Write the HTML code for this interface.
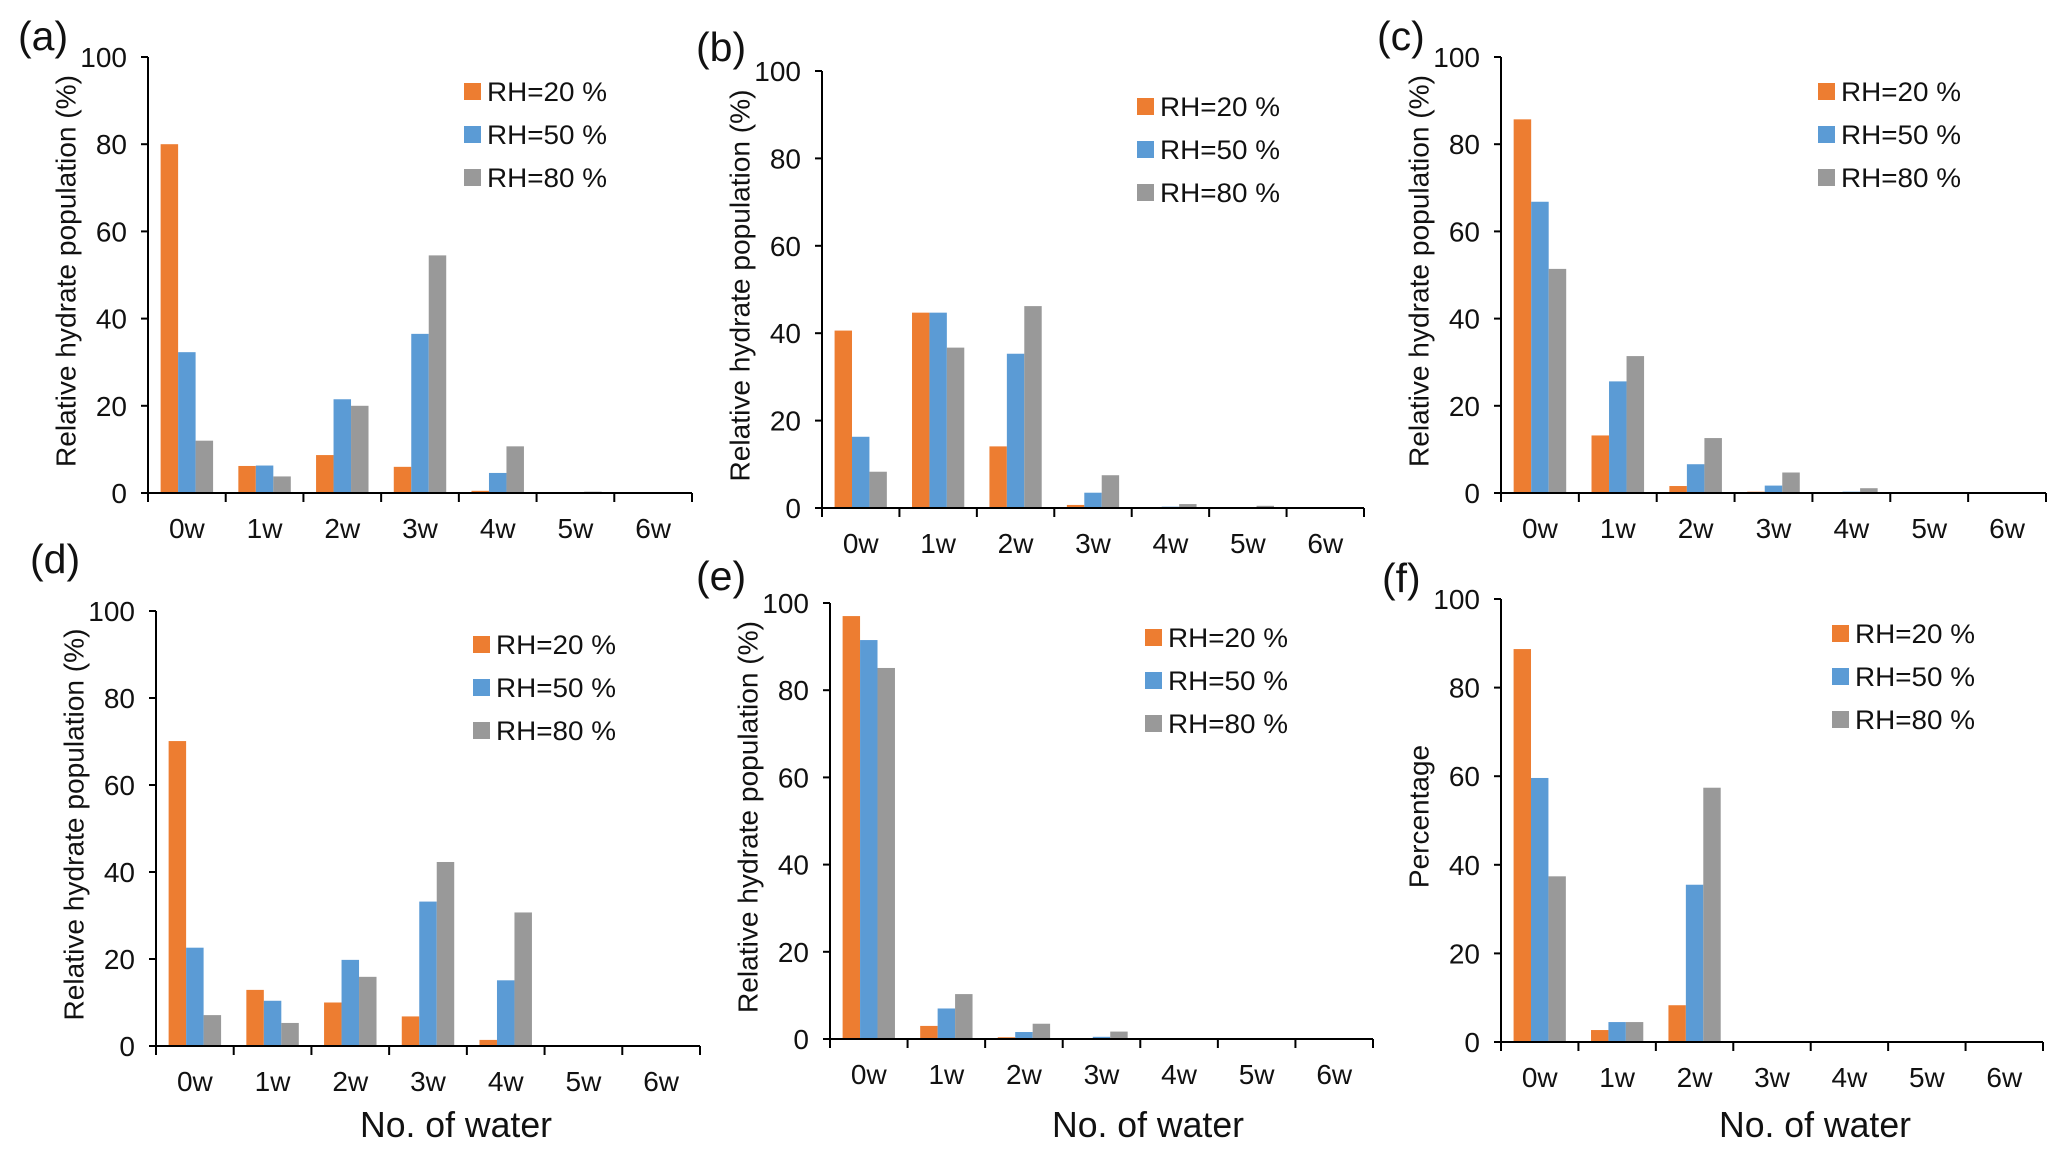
<!DOCTYPE html>
<html><head><meta charset="utf-8"><style>
html,body{margin:0;padding:0;background:#fff;}
svg{display:block;font-family:"Liberation Sans",Arial,sans-serif;}
</style></head><body>
<svg id="fig" width="2067" height="1155" viewBox="0 0 2067 1155" xmlns="http://www.w3.org/2000/svg"></svg>
<script>
const categories = ["0w","1w","2w","3w","4w","5w","6w"];
const seriesNames = ["RH=20 %","RH=50 %","RH=80 %"];
const yTicks = [0,20,40,60,80,100];
const aRH20 = [80,6.2,8.7,6,0.5,0.2,0.2];
const aRH50 = [32.3,6.3,21.5,36.5,4.6,0.2,0.2];
const aRH80 = [12,3.8,20,54.5,10.7,0.3,0.2];
const bRH20 = [40.6,44.7,14.1,0.7,0.2,0.2,0];
const bRH50 = [16.3,44.7,35.3,3.5,0.3,0.2,0.2];
const bRH80 = [8.3,36.7,46.2,7.5,0.9,0.5,0.1];
const cRH20 = [85.7,13.2,1.6,0.3,0.2,0,0];
const cRH50 = [66.8,25.6,6.6,1.7,0.3,0.2,0.2];
const cRH80 = [51.4,31.4,12.6,4.7,1.1,0.2,0.2];
const dRH20 = [70.1,12.9,10,6.8,1.4,0.2,0];
const dRH50 = [22.6,10.4,19.8,33.2,15.1,0.2,0.2];
const dRH80 = [7.1,5.3,15.9,42.3,30.7,0.2,0.2];
const eRH20 = [97,3,0.4,0.2,0,0,0];
const eRH50 = [91.5,7,1.6,0.5,0.2,0.2,0.2];
const eRH80 = [85.1,10.3,3.5,1.7,0.2,0.2,0.1];
const fRH20 = [88.7,2.7,8.3,0,0,0,0];
const fRH50 = [59.6,4.5,35.5,0,0,0,0];
const fRH80 = [37.4,4.5,57.4,0,0,0,0];

const colors = ["#ED7D31","#5B9BD5","#999999"];
const NS = "http://www.w3.org/2000/svg";
const svg = document.getElementById("fig");
function mk(tag, attrs, parent){
  const e = document.createElementNS(NS, tag);
  for (const k in attrs) e.setAttribute(k, attrs[k]);
  (parent||svg).appendChild(e);
  return e;
}
const panels = [
 {id:"a", x0:148, x1:692, yTop:57, yBot:493, lx:464, ly:91, lab:[18,50], yt:"Relative hydrate population (%)", xt:0, data:[aRH20,aRH50,aRH80]},
 {id:"b", x0:822, x1:1364, yTop:71, yBot:508, lx:1137, ly:106, lab:[696,61], yt:"Relative hydrate population (%)", xt:0, data:[bRH20,bRH50,bRH80]},
 {id:"c", x0:1501, x1:2046, yTop:57, yBot:493, lx:1818, ly:91, lab:[1377,50], yt:"Relative hydrate population (%)", xt:0, data:[cRH20,cRH50,cRH80]},
 {id:"d", x0:156, x1:700, yTop:611, yBot:1046, lx:473, ly:644, lab:[30,573], yt:"Relative hydrate population (%)", xt:456, data:[dRH20,dRH50,dRH80]},
 {id:"e", x0:830, x1:1373, yTop:603, yBot:1039, lx:1145, ly:637, lab:[696,590], yt:"Relative hydrate population (%)", xt:1148, data:[eRH20,eRH50,eRH80]},
 {id:"f", x0:1501, x1:2043, yTop:599, yBot:1042, lx:1832, ly:633, lab:[1382,592], yt:"Percentage", xt:1815, data:[fRH20,fRH50,fRH80]}
];
panels.forEach(p => {
  const g = mk("g", {});
  
  
  const yS = v => p.yBot - (v/100)*(p.yBot - p.yTop);
  const cw = (p.x1 - p.x0) / categories.length;
  const bw = cw * 0.225;
  p.data.forEach((series, si) => {
    series.forEach((v, ci) => {
      const cx = p.x0 + cw*(ci+0.5);
      const x = cx - 1.5*bw + si*bw;
      const y = yS(v);
      const r = mk("rect", {x:x, y:y, width:bw, height:Math.max(0, p.yBot - y), fill:colors[si]}, g);
      
      
    });
  });
  const ya = mk("line", {x1:p.x0, y1:p.yTop, x2:p.x0, y2:p.yBot, stroke:"#000", "stroke-width":2}, g);
  
  
  const xa = mk("line", {x1:p.x0-7, y1:p.yBot, x2:p.x1, y2:p.yBot, stroke:"#000", "stroke-width":2}, g);
  
  
  yTicks.forEach(t => {
    const y = yS(t);
    mk("line", {x1:p.x0-7, y1:y, x2:p.x0, y2:y, stroke:"#000", "stroke-width":2}, g);
    const tx = mk("text", {x:p.x0-21, y:y+10, "font-size":28, "text-anchor":"end", fill:"#111"}, g);
    tx.textContent = t;
    
    
  });
  for (let i=0;i<=categories.length;i++){
    const x = p.x0 + cw*i;
    mk("line", {x1:x, y1:p.yBot, x2:x, y2:p.yBot+9, stroke:"#000", "stroke-width":2}, g);
  }
  categories.forEach((c, ci) => {
    const tx = mk("text", {x:p.x0 + cw*(ci+0.5), y:p.yBot+45, "font-size":28, "text-anchor":"middle", fill:"#111"}, g);
    tx.textContent = c;
    
    
  });
  const cy = (p.yTop + p.yBot)/2 - 4;
  const cxT = p.x0 - 82;
  const ytAttrs = {x:cxT, y:cy, "font-size":28, "text-anchor":"middle", "dominant-baseline":"central", fill:"#111", transform:"rotate(-90 "+cxT+" "+cy+")"};
  if (p.yt.length > 15) { ytAttrs.textLength = 392; ytAttrs.lengthAdjust = "spacingAndGlyphs"; }
  const yt = mk("text", ytAttrs, g);
  yt.textContent = p.yt;
  
  
  if (p.xt){
    const xt = mk("text", {x:p.xt, y:1137, "font-size":36, "text-anchor":"middle", fill:"#111", textLength:192, lengthAdjust:"spacingAndGlyphs"}, g);
    xt.textContent = "No. of water";
    
    
  }
  const pl = mk("text", {x:p.lab[0], y:p.lab[1], "font-size":41, fill:"#111"}, g);
  pl.textContent = "(" + p.id + ")";
  
  
  seriesNames.forEach((n, si) => {
    const y = p.ly + si*43;
    const sq = mk("rect", {x:p.lx, y:y-8, width:17, height:17, fill:colors[si]}, g);
    
    
    const lt = mk("text", {x:p.lx+23, y:y+10, "font-size":27, fill:"#111", textLength:120, lengthAdjust:"spacingAndGlyphs"}, g);
    lt.textContent = n;
    
    
  });
});
</script>
</body></html>
